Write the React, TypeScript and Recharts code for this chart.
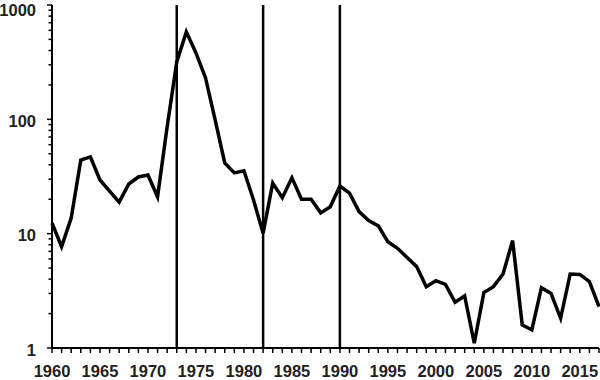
import { LineChart, Line, XAxis, YAxis, ReferenceLine } from "recharts";

const years = [
  1960, 1961, 1962, 1963, 1964, 1965, 1966, 1967, 1968, 1969,
  1970, 1971, 1972, 1973, 1974, 1975, 1976, 1977, 1978, 1979,
  1980, 1981, 1982, 1983, 1984, 1985, 1986, 1987, 1988, 1989,
  1990, 1991, 1992, 1993, 1994, 1995, 1996, 1997, 1998, 1999,
  2000, 2001, 2002, 2003, 2004, 2005, 2006, 2007, 2008, 2009,
  2010, 2011, 2012, 2013, 2014, 2015, 2016, 2017,
];

const values = [
  12.4, 7.7, 13.7, 44, 46.9, 29.5, 23.6, 18.9, 27.2, 31.3,
  32.6, 21, 86, 318, 582, 381, 230, 99, 41.6, 34,
  35.5, 19.7, 10.1, 27.7, 20.6, 30.8, 20, 20, 15.2, 17.2,
  26.1, 22.6, 15.6, 13, 11.7, 8.5, 7.45, 6.2, 5.15, 3.44,
  3.88, 3.6, 2.51, 2.85, 1.1, 3.05, 3.44, 4.44, 8.7, 1.59,
  1.44, 3.37, 3.0, 1.82, 4.44, 4.4, 3.8, 2.3,
];

const markers = [1973, 1982, 1990];

const yTicks = [
  1, 2, 3, 4, 5, 6, 7, 8, 9,
  10, 20, 30, 40, 50, 60, 70, 80, 90,
  100, 200, 300, 400, 500, 600, 700, 800, 900, 1000,
];
const yLabels = [1, 10, 100, 1000];

const data = years.map((year, i) => ({ year, value: values[i] }));

const AXIS_X = 52;
const AXIS_Y = 348;
const FS = 16.5;
const font = "'Liberation Sans', Arial, Helvetica, sans-serif";
const textColor = "#222";

function XTick(props: any) {
  const { x, payload } = props;
  const year = payload.value as number;
  return (
    <g>
      <line x1={x} x2={x} y1={AXIS_Y} y2={AXIS_Y + 5} stroke="#000" strokeWidth={1.5} />
      {year % 5 === 0 && (
        <text
          x={x}
          y={AXIS_Y + 28.5}
          textAnchor="middle"
          fontFamily={font}
          fontWeight="bold"
          fontSize={FS}
          fill={textColor}
        >
          {year}
        </text>
      )}
    </g>
  );
}

function YTick(props: any) {
  const { y, payload } = props;
  const v = payload.value as number;
  const major = yLabels.includes(v);
  // keep the top label inside the picture
  const baseline = Math.max(y + 2 + FS * 0.35, 15.5);
  return (
    <g>
      <line
        x1={AXIS_X - (major ? 5 : 3.5)}
        x2={AXIS_X}
        y1={y}
        y2={y}
        stroke="#000"
        strokeWidth={1.5}
      />
      {major && (
        <text
          x={AXIS_X - 16}
          y={baseline}
          textAnchor="end"
          fontFamily={font}
          fontWeight="bold"
          fontSize={FS}
          fill={textColor}
        >
          {v}
        </text>
      )}
    </g>
  );
}

export default function App() {
  return (
    <div style={{ position: "absolute", left: 0, top: 0, background: "#fff" }}>
      <LineChart
        width={600}
        height={380}
        data={data}
        margin={{ top: 5, right: 1, left: 0, bottom: 0 }}
      >
        <XAxis
          dataKey="year"
          type="number"
          domain={[1960, 2017]}
          ticks={years}
          interval={0}
          height={32}
          tickLine={false}
          axisLine={{ stroke: "#000", strokeWidth: 2 }}
          tick={<XTick />}
        />
        <YAxis
          scale="log"
          domain={[1, 1000]}
          ticks={yTicks}
          interval={0}
          allowDataOverflow
          width={52}
          tickLine={false}
          axisLine={{ stroke: "#000", strokeWidth: 2 }}
          tick={<YTick />}
        />
        {markers.map((m) => (
          <ReferenceLine key={m} x={m} stroke="#000" strokeWidth={2.5} />
        ))}
        <Line
          type="linear"
          dataKey="value"
          stroke="#000"
          strokeWidth={3.5}
          dot={false}
          isAnimationActive={false}
        />
      </LineChart>
    </div>
  );
}
